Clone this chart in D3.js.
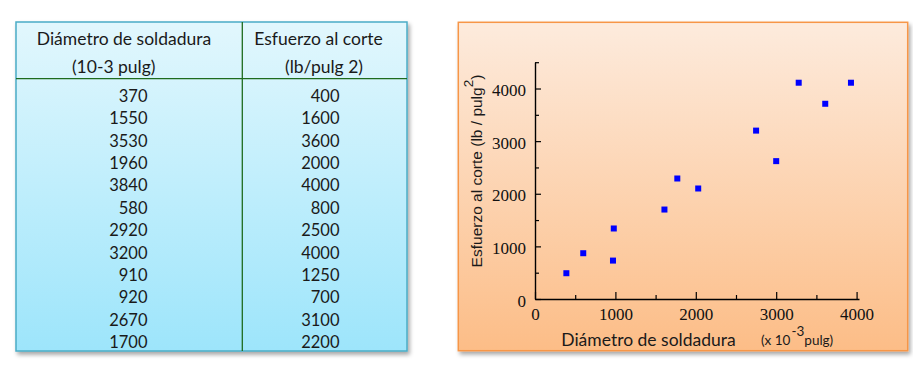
<!DOCTYPE html>
<html>
<head>
<meta charset="utf-8">
<script src="https://cdn.jsdelivr.net/npm/d3@7"></script>
<style>
  html, body { margin: 0; padding: 0; background: #ffffff; }
  svg { display: block; }
</style>
</head>
<body>
<div id="chart"></div>
<script>
// ---- Data (table) ----
const tableHeaders = [["Diámetro de soldadura", "(10-3 pulg)"], ["Esfuerzo al corte", "(lb/pulg 2)"]];
const tableDiameters = [370, 1550, 3530, 1960, 3840, 580, 2920, 3200, 910, 920, 2670, 1700];
const tableStress = [400, 1600, 3600, 2000, 4000, 800, 2500, 4000, 1250, 700, 3100, 2200];

// ---- Data (scatter, as plotted) ----
const plotX = [390, 600, 970, 980, 1610, 1770, 2030, 2750, 3000, 3280, 3610, 3930];
const plotY = [490, 870, 730, 1340, 1700, 2290, 2100, 3200, 2620, 4110, 3710, 4110];
const xTicks = [0, 1000, 2000, 3000, 4000];
const xMinorTicks = [500, 1500, 2500, 3500];
const yTicks = [0, 1000, 2000, 3000, 4000];
const yMinorTicks = [500, 1500, 2500, 3500, 4500];
const xTitle = "Diámetro de soldadura";
const yTitle = "Esfuerzo al corte (lb / pulg";

const W = 913, H = 365;
const svg = d3.select("#chart").append("svg").attr("width", W).attr("height", H);
const defs = svg.append("defs");

const shadow = defs.append("filter").attr("id", "shadow")
  .attr("x", "-5%").attr("y", "-5%").attr("width", "115%").attr("height", "115%");
shadow.append("feDropShadow").attr("dx", 2).attr("dy", 3).attr("stdDeviation", 2)
  .attr("flood-color", "#000").attr("flood-opacity", 0.35);

const gBlue = defs.append("linearGradient").attr("id", "gBlue").attr("x1", 0).attr("y1", 0).attr("x2", 0).attr("y2", 1);
gBlue.append("stop").attr("offset", "0%").attr("stop-color", "#e2f7fd");
gBlue.append("stop").attr("offset", "100%").attr("stop-color", "#9de5fb");
const gOrange = defs.append("linearGradient").attr("id", "gOrange").attr("x1", 0).attr("y1", 0).attr("x2", 0).attr("y2", 1);
gOrange.append("stop").attr("offset", "0%").attr("stop-color", "#fdebdd");
gOrange.append("stop").attr("offset", "100%").attr("stop-color", "#fcbd87");

// ---- Table panel ----
const tbl = { x: 16, y: 22, w: 391, h: 329, colX: 242.3, headLine: 78.7 };
svg.append("rect").attr("x", tbl.x).attr("y", tbl.y).attr("width", tbl.w).attr("height", tbl.h)
  .attr("fill", "url(#gBlue)").attr("stroke", "#4bacc6").attr("stroke-width", 1.5)
  .attr("filter", "url(#shadow)");
svg.append("line").attr("x1", tbl.x).attr("x2", tbl.x + tbl.w).attr("y1", tbl.headLine).attr("y2", tbl.headLine)
  .attr("stroke", "#1e6b1e").attr("stroke-width", 1.3);
svg.append("line").attr("x1", tbl.colX).attr("x2", tbl.colX).attr("y1", tbl.y).attr("y2", tbl.y + tbl.h)
  .attr("stroke", "#1e6b1e").attr("stroke-width", 1.3);

const tFont = "Lato, 'Open Sans', sans-serif";
const headPos = [[[124, 45], [113.7, 72.5]], [[318.5, 45], [324, 72.5]]];
tableHeaders.forEach((lines, c) => {
  lines.forEach((t, i) => {
    svg.append("text").attr("x", headPos[c][i][0]).attr("y", headPos[c][i][1])
      .attr("text-anchor", "middle").attr("font-family", tFont).attr("font-size", 17.5)
      .attr("fill", "#1a1a1a").text(t);
  });
});
const rowY = d3.scaleLinear().domain([0, tableDiameters.length - 1]).range([101.7, 348.3]);
svg.append("g").selectAll("text").data(tableDiameters).join("text")
  .attr("x", 147.5).attr("y", (d, i) => rowY(i)).attr("text-anchor", "end")
  .attr("font-family", tFont).attr("font-size", 16.5).attr("fill", "#1a1a1a").text(d => d);
svg.append("g").selectAll("text").data(tableStress).join("text")
  .attr("x", 339.5).attr("y", (d, i) => rowY(i)).attr("text-anchor", "end")
  .attr("font-family", tFont).attr("font-size", 16.5).attr("fill", "#1a1a1a").text(d => d);

// ---- Chart panel ----
svg.append("rect").attr("x", 458.3).attr("y", 22.3).attr("width", 449.4).attr("height", 328.4)
  .attr("fill", "url(#gOrange)").attr("stroke", "#f79646").attr("stroke-width", 1.5)
  .attr("filter", "url(#shadow)");

const x = d3.scaleLinear().domain([0, 4030]).range([535, 859]);
const y = d3.scaleLinear().domain([0, 4500]).range([299, 62.2]);
const serif = "'Liberation Serif', 'Times New Roman', serif";

// minor ticks
svg.append("g").attr("transform", "translate(0,299)")
  .call(d3.axisBottom(x).tickValues(xMinorTicks).tickSizeInner(-4).tickSizeOuter(0).tickFormat(""))
  .call(g => g.select(".domain").remove())
  .call(g => g.selectAll("line").attr("stroke", "#000").attr("stroke-width", 1.2));
svg.append("g").attr("transform", "translate(535,0)")
  .call(d3.axisLeft(y).tickValues(yMinorTicks).tickSizeInner(-4).tickSizeOuter(0).tickFormat(""))
  .call(g => g.select(".domain").remove())
  .call(g => g.selectAll("line").attr("stroke", "#000").attr("stroke-width", 1.2));

// major axes
svg.append("g").attr("transform", "translate(0,299)")
  .call(d3.axisBottom(x).tickValues(xTicks).tickSizeInner(-7).tickSizeOuter(0).tickPadding(9).tickFormat(d3.format("d")))
  .call(g => g.select(".domain").attr("stroke", "#000").attr("stroke-width", 1.4))
  .call(g => g.selectAll("line").attr("stroke", "#000").attr("stroke-width", 1.2))
  .call(g => g.selectAll("text").attr("font-family", serif).attr("font-size", 17).attr("fill", "#111"));
svg.append("g").attr("transform", "translate(535,0)")
  .call(d3.axisLeft(y).tickValues(yTicks).tickSizeInner(-6).tickSizeOuter(0).tickPadding(9).tickFormat(d3.format("d")))
  .call(g => g.select(".domain").attr("stroke", "#000").attr("stroke-width", 1.4))
  .call(g => g.selectAll("line").attr("stroke", "#000").attr("stroke-width", 1.2))
  .call(g => g.selectAll("text").attr("font-family", serif).attr("font-size", 17).attr("fill", "#111").attr("dy", "0.42em"));

// points
const pts = plotX.map((v, i) => ({ x: v, y: plotY[i] }));
svg.append("g").selectAll("rect").data(pts).join("rect")
  .attr("x", d => x(d.x) - 3).attr("y", d => y(d.y) - 3)
  .attr("width", 6).attr("height", 6).attr("fill", "#0000ff");

// x title
svg.append("text").attr("x", 648.5).attr("y", 345.5).attr("text-anchor", "middle")
  .attr("font-family", tFont).attr("font-size", 17.5).attr("fill", "#1a1a1a").text(xTitle);
const unit = svg.append("text").attr("x", 761).attr("y", 345).attr("font-family", tFont)
  .attr("font-size", 13.5).attr("fill", "#1a1a1a");
unit.append("tspan").text("(x 10");
unit.append("tspan").attr("dy", -9).attr("dx", 1).text("-3");
unit.append("tspan").attr("dy", 9).text("pulg)");

// y title
const yt = svg.append("text").attr("transform", "translate(481.5,171) rotate(-90)")
  .attr("text-anchor", "middle").attr("font-family", "'Liberation Sans', Arial, sans-serif")
  .attr("font-size", 15.5).attr("fill", "#1a1a1a");
yt.append("tspan").text(yTitle);
yt.append("tspan").attr("dy", -9).attr("font-size", 13.5).text("2");
yt.append("tspan").attr("dy", 9).text(")");
</script>
</body>
</html>
